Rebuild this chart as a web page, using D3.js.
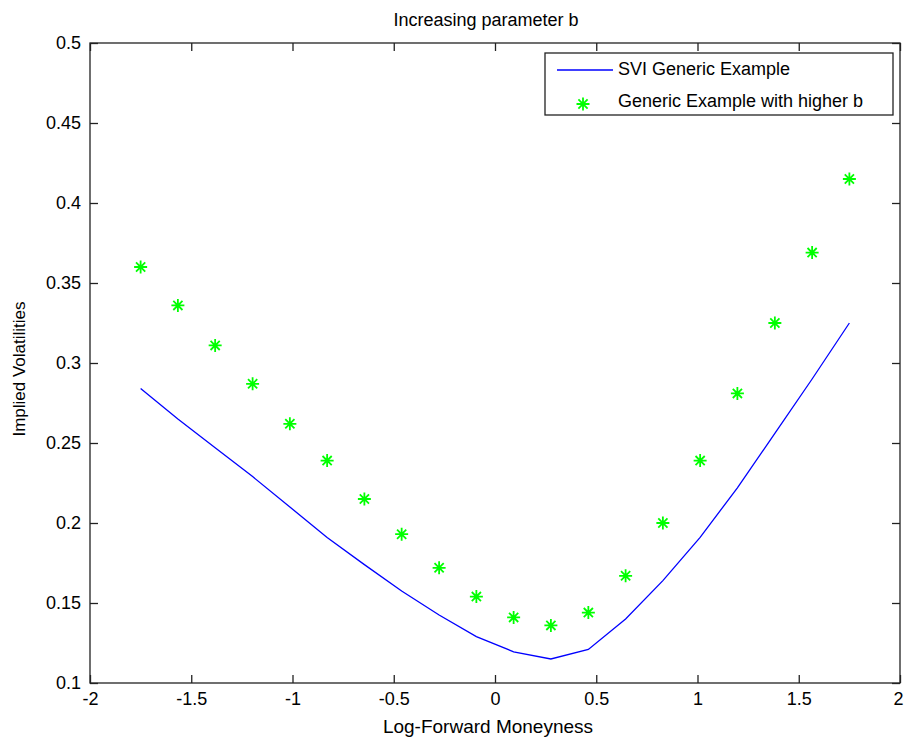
<!DOCTYPE html>
<html>
<head>
<meta charset="utf-8">
<script src="https://cdn.jsdelivr.net/npm/d3@7"></script>
<style>
  html, body { margin: 0; padding: 0; background: #fff; }
  svg { display: block; font-family: "Liberation Sans", Arial, sans-serif; }
</style>
</head>
<body>
<svg id="chart" width="904" height="740"></svg>
<script>
const title = "Increasing parameter b";
const xLabel = "Log-Forward Moneyness";
const yLabel = "Implied Volatilities";
const seriesNames = ["SVI Generic Example", "Generic Example with higher b"];

const moneyness = [-1.75, -1.566, -1.382, -1.197, -1.013, -0.829, -0.645, -0.461, -0.276, -0.092,
                   0.092, 0.276, 0.461, 0.645, 0.829, 1.013, 1.197, 1.382, 1.566, 1.75];
const sviVol = [0.284, 0.265, 0.247, 0.229, 0.210, 0.191, 0.174, 0.1575, 0.1425, 0.129,
                0.1195, 0.115, 0.121, 0.140, 0.164, 0.191, 0.222, 0.256, 0.290, 0.325];
const higherBVol = [0.360, 0.336, 0.311, 0.287, 0.262, 0.239, 0.215, 0.193, 0.172, 0.154,
                    0.141, 0.136, 0.144, 0.167, 0.200, 0.239, 0.281, 0.325, 0.369, 0.415];

const xTicks = [-2, -1.5, -1, -0.5, 0, 0.5, 1, 1.5, 2];
const yTicks = [0.1, 0.15, 0.2, 0.25, 0.3, 0.35, 0.4, 0.45, 0.5];

const svg = d3.select("#chart");
const L = 90, R = 900, T = 43, B = 683;
const x = d3.scaleLinear().domain([-2, 2]).range([L, R]);
const y = d3.scaleLinear().domain([0.1, 0.5]).range([B, T]);
const fontSize = 18;
const tickLen = 8;
const FF = "Liberation Sans, Arial, sans-serif";

// frame
svg.append("rect").attr("x", L).attr("y", T).attr("width", R - L).attr("height", B - T)
  .attr("fill", "#fff").attr("stroke", "#222").attr("stroke-width", 1.3);

// axes (ticks inward)
const fmt = d => String(d);
const styleAxis = g => {
  g.select(".domain").remove();
  g.selectAll("text").attr("font-size", fontSize).attr("font-family", FF).attr("fill", "#000");
  g.selectAll("line").attr("stroke", "#222").attr("stroke-width", 1.3);
};
svg.append("g").attr("transform", `translate(0,${B})`)
  .call(d3.axisBottom(x).tickValues(xTicks).tickFormat(fmt).tickSizeInner(-tickLen).tickSizeOuter(0).tickPadding(9))
  .call(styleAxis)
  .call(g => g.selectAll(".tick").filter(d => d === xTicks[xTicks.length - 1])
    .select("text").attr("text-anchor", "end").attr("x", 3));
svg.append("g").attr("transform", `translate(0,${T})`)
  .call(d3.axisTop(x).tickValues(xTicks).tickFormat("").tickSizeInner(-tickLen).tickSizeOuter(0))
  .call(styleAxis);
svg.append("g").attr("transform", `translate(${L},0)`)
  .call(d3.axisLeft(y).tickValues(yTicks).tickFormat(fmt).tickSizeInner(-tickLen).tickSizeOuter(0).tickPadding(9))
  .call(styleAxis);
svg.append("g").attr("transform", `translate(${R},0)`)
  .call(d3.axisRight(y).tickValues(yTicks).tickFormat("").tickSizeInner(-tickLen).tickSizeOuter(0))
  .call(styleAxis);

// blue line
const line = d3.line().x((d, i) => x(moneyness[i])).y(d => y(d));
svg.append("path").datum(sviVol).attr("d", line)
  .attr("fill", "none").attr("stroke", "#0000ff").attr("stroke-width", 1.3);

// star marker
function starPath(r) {
  const d = r * Math.SQRT1_2;
  return `M${-r},0L${r},0M0,${-r}L0,${r}M${-d},${-d}L${d},${d}M${-d},${d}L${d},${-d}`;
}
svg.append("g").selectAll("path").data(higherBVol).join("path")
  .attr("transform", (d, i) => `translate(${x(moneyness[i])},${y(d)})`)
  .attr("d", starPath(6.5))
  .attr("fill", "none").attr("stroke", "#00ff00").attr("stroke-width", 1.8);

// legend
const lg = svg.append("g");
lg.append("rect").attr("x", 545).attr("y", 53).attr("width", 348).attr("height", 62)
  .attr("fill", "#fff").attr("stroke", "#222").attr("stroke-width", 1.3);
lg.append("line").attr("x1", 557).attr("x2", 613).attr("y1", 70).attr("y2", 70)
  .attr("stroke", "#0000ff").attr("stroke-width", 1.3);
lg.append("path").attr("transform", "translate(583,104)").attr("d", starPath(6.5))
  .attr("fill", "none").attr("stroke", "#00ff00").attr("stroke-width", 1.8);
lg.selectAll("text.leg").data(seriesNames).join("text").attr("class", "leg")
  .attr("x", 618).attr("y", (d, i) => 75 + i * 32)
  .attr("font-size", fontSize).attr("font-family", FF).attr("fill", "#000").text(d => d);

// titles
svg.append("text").attr("x", 486).attr("y", 26)
  .attr("text-anchor", "middle").attr("font-size", 18).attr("font-family", FF).text(title);
svg.append("text").attr("x", 488).attr("y", 733)
  .attr("text-anchor", "middle").attr("font-size", 19).attr("font-family", FF).text(xLabel);
svg.append("text").attr("transform", `translate(25,369) rotate(-90)`)
  .attr("text-anchor", "middle").attr("font-size", 17).attr("font-family", FF).text(yLabel);
</script>
</body>
</html>
